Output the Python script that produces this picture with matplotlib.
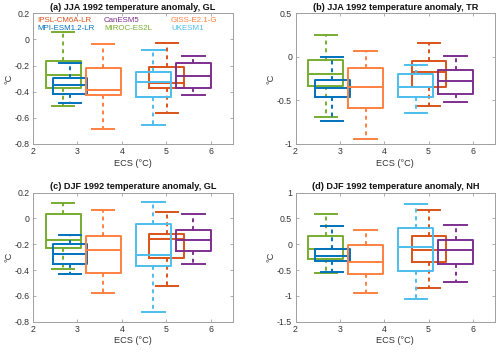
import matplotlib
matplotlib.use("Agg")
import matplotlib.pyplot as plt

plt.rcParams['font.family'] = ['Liberation Sans', 'DejaVu Sans']

models = ["IPSL-CM6A-LR", "MPI-ESM1.2-LR", "CanESM5", "MIROC-ES2L", "GISS-E2.1-G", "UKESM1"]
colors = ["#D95319", "#0072BD", "#7E2F8E", "#77AC30", "#FF8040", "#4DBEEE"]
ecs = [5.01, 2.83, 5.61, 2.68, 3.58, 4.71]

titles = ["(a) JJA 1992 temperature anomaly, GL",
          "(b) JJA 1992 temperature anomaly, TR",
          "(c) DJF 1992 temperature anomaly, GL",
          "(d) DJF 1992 temperature anomaly, NH"]

# per model: [whisker low, q1, median, q3, whisker high]
jja_gl = [[-0.565, -0.374, -0.336, -0.210, -0.028],
          [-0.490, -0.417, -0.349, -0.293, -0.178],
          [-0.426, -0.368, -0.281, -0.178, -0.123],
          [-0.509, -0.375, -0.275, -0.166, 0.055],
          [-0.684, -0.424, -0.387, -0.219, -0.037],
          [-0.655, -0.438, -0.323, -0.247, -0.083]]
jja_tr = [[-0.568, -0.347, -0.170, -0.050, 0.154],
          [-0.739, -0.456, -0.362, -0.260, -0.002],
          [-0.514, -0.425, -0.275, -0.146, 0.011],
          [-0.688, -0.337, -0.192, -0.035, 0.248],
          [-0.946, -0.590, -0.342, -0.127, 0.065],
          [-0.640, -0.463, -0.348, -0.200, -0.092]]
djf_gl = [[-0.524, -0.304, -0.157, -0.120, 0.053],
          [-0.428, -0.356, -0.278, -0.195, -0.131],
          [-0.350, -0.255, -0.164, -0.092, 0.032],
          [-0.389, -0.226, -0.167, 0.032, 0.122],
          [-0.580, -0.420, -0.244, -0.138, 0.063],
          [-0.722, -0.368, -0.281, -0.040, 0.128]]
djf_nh = [[-0.854, -0.344, -0.105, 0.154, 0.658],
          [-0.537, -0.324, -0.227, -0.092, 0.354],
          [-0.731, -0.382, -0.105, 0.083, 0.373],
          [-0.563, -0.279, -0.085, 0.154, 0.580],
          [-0.944, -0.576, -0.344, -0.021, 0.283],
          [-1.054, -0.518, -0.053, 0.322, 0.787]]
panel_data = [jja_gl, jja_tr, djf_gl, djf_nh]

ylims = [(-0.8, 0.2), (-1, 0.5), (-0.8, 0.2), (-1.5, 1)]
yticks = [[-0.8, -0.6, -0.4, -0.2, 0, 0.2],
          [-1, -0.5, 0, 0.5],
          [-0.8, -0.6, -0.4, -0.2, 0, 0.2],
          [-1.5, -1, -0.5, 0, 0.5, 1]]
xticks = [2, 3, 4, 5, 6]

draw_order = [3, 1, 4, 0, 5, 2]

fig = plt.figure(figsize=(5.0, 3.52), dpi=100)
rects = [[0.066, 0.591, 0.400, 0.371],
         [0.591, 0.591, 0.399, 0.371],
         [0.066, 0.0861, 0.400, 0.3665],
         [0.591, 0.0861, 0.399, 0.3665]]

spine_c = "#a0a0a0"
text_c = "#333333"
lw = 1.4

# legend layout (axes fraction) : column x, row y
leg_x = [0.0225, 0.0225, 0.355, 0.355, 0.69, 0.69]
leg_y = [0.949, 0.888, 0.949, 0.888, 0.949, 0.888]

def fmt(v):
    return "%g" % v

for k in range(4):
    ax = fig.add_axes(rects[k])
    data = panel_data[k]
    for z, i in enumerate(draw_order):
        lo, q1, med, q3, hi = data[i]
        st = [dict(whislo=lo, q1=q1, med=med, q3=q3, whishi=hi, fliers=[])]
        c = colors[i]
        ax.bxp(st, positions=[ecs[i]], widths=0.78, capwidths=0.5,
               showfliers=False, manage_ticks=False,
               boxprops=dict(color=c, linewidth=lw),
               medianprops=dict(color=c, linewidth=lw),
               whiskerprops=dict(color=c, linewidth=lw, linestyle=(0, (2, 2))),
               capprops=dict(color=c, linewidth=lw),
               zorder=2 + z)
    ax.set_xlim(2, 6.5)
    ax.set_ylim(*ylims[k])
    ax.set_xticks(xticks)
    ax.set_xticklabels([fmt(v) for v in xticks])
    ax.set_yticks(yticks[k])
    ax.set_yticklabels([fmt(v) for v in yticks[k]])
    ax.tick_params(direction='in', length=2.5, width=0.6, colors=spine_c,
                   labelcolor=text_c, labelsize=6.3, top=True, right=True, pad=2.5)
    for s in ax.spines.values():
        s.set_color(spine_c)
        s.set_linewidth(0.7)
    ax.set_title(titles[k], fontsize=6.6, fontweight='bold', color='#111111', pad=2.5)
    ax.set_xlabel("ECS (°C)", fontsize=6.6, color=text_c, labelpad=1.5)
    ax.set_ylabel("°C", fontsize=6.6, color=text_c, labelpad=1)
    if k == 0:
        for i in range(6):
            ax.text(leg_x[i], leg_y[i], models[i], color=colors[i], fontsize=5.7,
                    transform=ax.transAxes, ha='left', va='center', zorder=20)

fig.savefig("out.png", dpi=100)
